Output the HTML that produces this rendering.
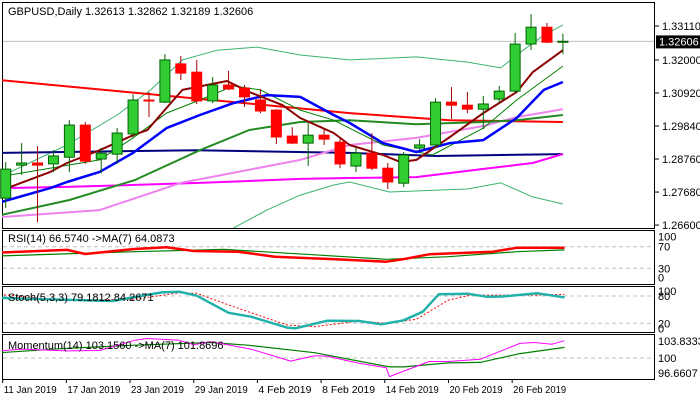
<!DOCTYPE html>
<html><head><meta charset="utf-8"><style>
html,body{margin:0;padding:0;background:#fff;}
svg{display:block;font-family:"Liberation Sans",sans-serif;}
</style></head><body>
<svg id="c" width="700" height="400" xmlns="http://www.w3.org/2000/svg"></svg>
<script>
// ---- data ----
const opens  = [1.2748,1.2856,1.2863,1.2860,1.2882,1.2987,1.2876,1.2892,1.2958,1.3069,1.3062,1.3187,1.3160,1.3066,1.3118,1.3108,1.3069,1.3036,1.2951,1.2928,1.2954,1.2931,1.2853,1.2895,1.2846,1.2797,1.2912,1.2922,1.3062,1.3052,1.3039,1.3072,1.3098,1.3252,1.3307,1.3261];
const highs  = [1.2866,1.2928,1.2918,1.2905,1.3003,1.2997,1.2912,1.2977,1.3088,1.3095,1.3219,1.3213,1.3200,1.3144,1.3164,1.3118,1.3105,1.3039,1.2980,1.2994,1.2977,1.2941,1.2915,1.2961,1.2863,1.2899,1.2941,1.3075,1.3111,1.3095,1.3082,1.3115,1.3288,1.3350,1.3321,1.3286];
const lows   = [1.2716,1.2824,1.2670,1.2833,1.2833,1.2860,1.2830,1.2860,1.2945,1.3013,1.3059,1.3134,1.3056,1.3059,1.3101,1.3046,1.3026,1.2925,1.2925,1.2853,1.2922,1.2846,1.2833,1.2840,1.2778,1.2784,1.2905,1.2912,1.3007,1.3026,1.2974,1.3059,1.3092,1.3232,1.3255,1.3219];
const closes = [1.2843,1.2863,1.2856,1.2886,1.2987,1.2869,1.2895,1.2961,1.3069,1.3066,1.3200,1.3157,1.3066,1.3118,1.3105,1.3079,1.3033,1.2948,1.2928,1.2954,1.2941,1.2860,1.2895,1.2846,1.2801,1.2889,1.2922,1.3062,1.3052,1.3039,1.3056,1.3098,1.3252,1.3307,1.3258,1.3261];
const dateLabels = ["11 Jan 2019","17 Jan 2019","23 Jan 2019","29 Jan 2019","4 Feb 2019","8 Feb 2019","14 Feb 2019","20 Feb 2019","26 Feb 2019"];
const priceTicks = [1.3311,1.3200,1.3092,1.2984,1.2876,1.2768,1.2660];
const priceTickLabels = ["1.33110","1.32000","1.30920","1.29840","1.28760","1.27680","1.26600"];
const lastPrice = 1.32606;

const maRedIdx=[-0.3,21.6,27.9,35], maRedVal=[1.3134,1.3026,1.3003,1.2997];
const maNavyIdx=[-0.3,12,21.6,27,35], maNavyVal=[1.2896,1.2905,1.2896,1.2886,1.2892];
const maMagIdx=[-0.3,3.85,12.2,18.5,21.6,25.8,29.9,33.1,35], maMagVal=[1.2781,1.2785,1.2798,1.2811,1.2814,1.2817,1.2843,1.2863,1.2892];
const maPlumIdx=[-0.3,5.9,11,18.5,21.6,25.8,30,32.1,35], maPlumVal=[1.2686,1.2709,1.2798,1.2873,1.2922,1.2945,1.2984,1.3013,1.3039];
const maDGIdx=[-0.3,4,8.1,12.2,15.3,18.5,21.6,25.8,30,32.1,35], maDGVal=[1.2693,1.2742,1.2807,1.2905,1.2971,1.2997,1.3003,1.2990,1.2997,1.3003,1.3020];
const maBlueIdx=[-0.3,2.8,3.85,5.9,8,10.1,12.2,14.3,16.4,18.5,20.6,21.6,23.7,25.8,27.9,30,32.1,33.8,35], maBlueVal=[1.2735,1.2781,1.2801,1.2834,1.2896,1.2977,1.3020,1.3059,1.3085,1.3079,1.3020,1.2994,1.2928,1.2899,1.2928,1.2938,1.3010,1.3102,1.3128];
const maFastIdx=[0.1,2.8,3.85,5.9,8,8.9,10.1,11.1,13.3,13.9,15.3,17.4,18.5,20.6,21.6,23.7,24.8,25.8,27.9,30,32.1,33.1,35], maFastVal=[1.2781,1.2834,1.2863,1.2905,1.2954,1.2971,1.3043,1.3102,1.3125,1.3131,1.3095,1.3052,1.3010,1.2961,1.2922,1.2889,1.2866,1.2873,1.2948,1.3026,1.3095,1.3160,1.3232];
const maThinIdx=[0.3,5.9,8,10.1,12.2,14.3,16,18.5,20.6,23.7,26.8,30,32.1,35], maThinVal=[1.2824,1.2873,1.2945,1.3026,1.3069,1.3115,1.3102,1.3036,1.3003,1.2922,1.2889,1.2977,1.3069,1.3180];
const bbUpIdx=[0.3,3.85,7,9.1,11.1,13.3,15.8,18.5,21.6,25.8,29,31.1,32.5,33.8,35], bbUpVal=[1.2834,1.2922,1.3020,1.3102,1.3200,1.3232,1.3242,1.3216,1.3200,1.3210,1.3193,1.3174,1.3232,1.3281,1.3314];
const bbLoIdx=[14.3,16.4,18.5,20.6,21.6,24.1,29,31.1,33.1,35], bbLoVal=[1.2650,1.2709,1.2758,1.2791,1.2801,1.2768,1.2778,1.2798,1.2752,1.2729];

const rsiIdx=[-0.36,3.85,5,8.1,10.1,11.8,14.6,16.9,20.7,23.9,25,26.6,30.6,32.1,35.1], rsiVal=[59,64,56.5,65.7,69,62,60.7,51.5,46.6,42.3,47,56,60.7,68,68];
const rsiMaIdx=[-0.36,8.1,13.7,19.4,23.9,27.8,32.1,35.1], rsiMaVal=[53,60.7,65,55,46.6,51.5,60.7,64];
const stIdx=[-0.36,2.5,6.7,9.8,10.9,12,14,15.4,17.7,18.2,20.2,22.2,23.6,25,26.2,27.2,29,30.2,31.2,33.4,35.1], stVal=[76,73,69,88,89.5,80.6,43,34.5,10.3,9,25.7,25,17.8,26.6,45.5,83.7,85,78.5,78.8,86,77];
const stSigIdx=[-0.36,3.3,8.1,10.9,12,14.3,17.7,19.4,22.2,23.9,25.8,27.8,29.2,33.4,35.1], stSigVal=[83.7,71,73,87,86,56.5,16,12.5,25,20,28.8,71,82,82,83.7];
const momIdx=[-0.36,1,3.85,5.9,8.1,8.9,10.9,11.8,12.9,15.4,17.9,19.4,20.2,22.2,23.9,24.1,26.6,27.8,29.8,32.3,33.2,34.3,35.1], momVal=[101.6,102,101.6,101.7,104,104.4,104,103,103.7,102,99.3,100.5,100.4,98.8,97.8,95.8,99.2,99.2,99.7,103.3,103.5,103.1,103.9];
const momMaIdx=[-0.36,3.85,8.1,12.9,15.2,19.4,24.1,25,27.8,29.8,32.3,35.1], momMaVal=[101.2,102.2,102.9,103.5,102.9,101.2,98,98,98.9,99,101,102.4];

// ---- axes ----
const NS="http://www.w3.org/2000/svg";
const svg=document.getElementById('c');
const xOf=i=>5.7+15.92*i;
const yP=p=>(1.3396-p)/0.000327;
const yR=v=>284.5-0.54*v;
const yS=v=>332.4-0.455*v;
const yM=v=>358-4.43*(v-100);
function el(tag,attrs,parent){const e=document.createElementNS(NS,tag);for(const k in attrs)e.setAttribute(k,attrs[k]);(parent||svg).appendChild(e);return e;}
function txt(x,y,s,attrs){const t=el('text',Object.assign({x:x,y:y,'font-size':11,fill:'#000'},attrs||{}));t.textContent=s;return t;}

const defs=el('defs',{});
[['cm',2,2,653,226],['cr',2,230,653,54],['cs',2,286,653,46],['cmo',2,334,653,45]].forEach(a=>{const cp=el('clipPath',{id:a[0]},defs);el('rect',{x:a[1],y:a[2],width:a[3],height:a[4]},cp);});

function line(idx,val,yf,stroke,w,clip,name,dash){
  let d='';for(let k=0;k<idx.length;k++){d+=(k?'L':'M')+xOf(idx[k]).toFixed(1)+' '+yf(val[k]).toFixed(1);}
  const p=el('path',{d:d,fill:'none',stroke:stroke,'stroke-width':w,'clip-path':'url(#'+clip+')','stroke-linejoin':'round'});
  if(dash)p.setAttribute('stroke-dasharray',dash);
  
  
  return p;
}

const mf=el('rect',{x:2.5,y:2.5,width:652,height:226,fill:'#fff',stroke:'#000','stroke-width':1});

const hdr=txt(8,15,'GBPUSD,Daily  1.32613 1.32862 1.32189 1.32606');

const bid=el('line',{x1:3,x2:654,y1:yP(lastPrice),y2:yP(lastPrice),stroke:'#c0c0c0','stroke-width':1});


line(bbUpIdx,bbUpVal,yP,'#3cb371',1,'cm','bollinger-upper');
line(bbLoIdx,bbLoVal,yP,'#3cb371',1,'cm','bollinger-lower');
line(maRedIdx,maRedVal,yP,'#ff0000',2,'cm','ma-red');
line(maNavyIdx,maNavyVal,yP,'#000080',2,'cm','ma-navy');
line(maMagIdx,maMagVal,yP,'#ff00ff',2,'cm','ma-magenta');
line(maPlumIdx,maPlumVal,yP,'#ee82ee',2,'cm','ma-violet');
line(maDGIdx,maDGVal,yP,'#228b22',2,'cm','ma-green');
line(maThinIdx,maThinVal,yP,'#008000',1,'cm','ma-thin-green');
line(maBlueIdx,maBlueVal,yP,'#0000ff',2.5,'cm','ma-blue');
line(maFastIdx,maFastVal,yP,'#8b0000',2,'cm','ma-fast');

for(let i=0;i<opens.length;i++){
  const x=xOf(i),up=closes[i]>=opens[i];
  const wc=up?'#006400':'#a00000';
  const w=el('line',{x1:x,x2:x,y1:yP(highs[i]),y2:yP(lows[i]),stroke:wc,'stroke-width':1});
  
  
  const top=yP(Math.max(opens[i],closes[i])),bot=yP(Math.min(opens[i],closes[i]));
  const b=el('rect',{x:x-5,y:top,width:10,height:Math.max(1,bot-top),fill:up?'#32cd32':'#ff0000',stroke:up?'#006400':'#ff0000','stroke-width':1});
  
  
}

for(let k=0;k<priceTicks.length;k++){
  const y=yP(priceTicks[k]);
  el('line',{x1:655,x2:659,y1:y,y2:y,stroke:'#000'});
  const t=txt(662,y+4,priceTickLabels[k]);
  
  
}
const lb=el('rect',{x:656,y:yP(lastPrice)-6,width:44,height:13,fill:'#000'});

const lt=txt(659,yP(lastPrice)+4,'1.32606',{fill:'#fff'});


function panel(y,h,name){const r=el('rect',{x:2.5,y:y+0.5,width:652,height:h,fill:'#fff',stroke:'#000','stroke-width':1});}
function dashH(y){el('line',{x1:3,x2:654,y1:y,y2:y,stroke:'#c0c0c0','stroke-dasharray':'4,3'});}
panel(230,54,'rsi-panel');
dashH(yR(70));dashH(yR(30));
line(rsiMaIdx,rsiMaVal,yR,'#008000',1.2,'cr','rsi-ma');
line(rsiIdx,rsiVal,yR,'#ff0000',2.5,'cr','rsi-line');
let t=txt(8,242,'RSI(14) 66.5740  ->MA(7) 64.0873');
[['100',yR(100)+10],['70',yR(70)+4],['30',yR(30)+4],['0',yR(0)-3]].forEach(a=>{const q=txt(658,a[1],a[0]);});

panel(286,46,'stoch-panel');
dashH(yS(80));dashH(yS(20));
line(stSigIdx,stSigVal,yS,'#ff0000',1,'cs','stoch-signal','2,2');
line(stIdx,stVal,yS,'#20b2aa',2.5,'cs','stoch-main');
t=txt(8,301,'Stoch(5,3,3) 79.1812 84.2671');
[['100',yS(100)+8],['80',yS(80)+4],['20',yS(20)+4],['0',yS(0)]].forEach(a=>{const q=txt(658,a[1],a[0]);});

panel(334,45,'momentum-panel');
dashH(yM(100));
line(momMaIdx,momMaVal,yM,'#008000',1.2,'cmo','momentum-ma');
line(momIdx,momVal,yM,'#ff00ff',1,'cmo','momentum-line');
t=txt(8,349,'Momentum(14) 103.1560  ->MA(7) 101.8696');
[['103.8333',yM(103.8333)+4],['100',yM(100)+4],['96.6607',yM(96.6607)+4]].forEach(a=>{const q=txt(658,a[1],a[0]);});

for(let k=0;k<dateLabels.length;k++){
  const x=xOf(4*k)-3;
  el('line',{x1:x,x2:x,y1:379,y2:383,stroke:'#000'});
  const d=txt(x+1,393,dateLabels[k],{'font-size':10,textLength:53,lengthAdjust:'spacingAndGlyphs'});
  
  
}
</script>
</body></html>
